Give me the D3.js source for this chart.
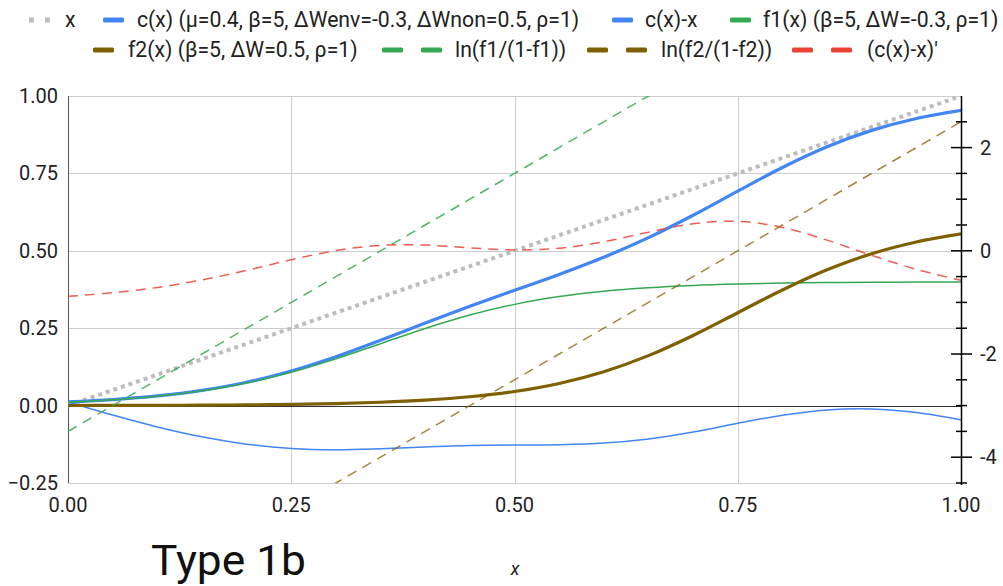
<!DOCTYPE html>
<html>
<head>
<meta charset="utf-8">
<script src="https://cdn.jsdelivr.net/npm/d3@7"></script>
<style>
  body { margin: 0; background: #fff; }
  svg { display: block; }
  text { font-family: Roboto, "Liberation Sans", Arial, sans-serif; }
</style>
</head>
<body>
<svg id="chart" width="1003" height="586"></svg>
<script>
// Sample positions along x
const xs = [0, 0.05, 0.1, 0.15, 0.2, 0.25, 0.3, 0.35, 0.4, 0.45, 0.5,
            0.55, 0.6, 0.65, 0.7, 0.75, 0.8, 0.85, 0.9, 0.95, 1];

// Left-axis series
const identity = [0, 0.05, 0.1, 0.15, 0.2, 0.25, 0.3, 0.35, 0.4, 0.45, 0.5,
                  0.55, 0.6, 0.65, 0.7, 0.75, 0.8, 0.85, 0.9, 0.95, 1];
const cVals = [0.0121, 0.0195, 0.0312, 0.0492, 0.0754, 0.1116, 0.1576, 0.2108, 0.2666, 0.3209, 0.3725,
               0.4238, 0.4791, 0.5424, 0.6148, 0.6928, 0.7691, 0.8360, 0.8889, 0.9275, 0.9539];
const cMinusX = [0.0121, -0.0305, -0.0688, -0.1008, -0.1246, -0.1384, -0.1424, -0.1392, -0.1334, -0.1291, -0.1275,
                 -0.1262, -0.1209, -0.1076, -0.0852, -0.0572, -0.0309, -0.0140, -0.0111, -0.0225, -0.0461];
const f1Vals = [0.0117, 0.0190, 0.0303, 0.0477, 0.0730, 0.1076, 0.1510, 0.2000, 0.2490, 0.2924, 0.3270,
                0.3523, 0.3697, 0.3810, 0.3883, 0.3928, 0.3956, 0.3973, 0.3984, 0.3990, 0.3994];
const f2Vals = [0.0003, 0.0006, 0.0009, 0.0015, 0.0024, 0.0040, 0.0066, 0.0108, 0.0176, 0.0285, 0.0455,
                0.0715, 0.1095, 0.1614, 0.2265, 0.3000, 0.3735, 0.4386, 0.4906, 0.5285, 0.5545];

// Right-axis series
const logitF1 = [-3.5, -3, -2.5, -2, -1.5, -1, -0.5, 0, 0.5, 1, 1.5,
                 2, 2.5, 3, 3.5, 4, 4.5, 5, 5.5, 6, 6.5];
const logitF2 = [-7.5, -7, -6.5, -6, -5.5, -5, -4.5, -4, -3.5, -3, -2.5,
                 -2, -1.5, -1, -0.5, 0, 0.5, 1, 1.5, 2, 2.5];
const slopeCMinusX = [-0.8829, -0.8138, -0.7106, -0.5652, -0.3791, -0.1737, 0.0052, 0.1060, 0.1107, 0.0575, 0.0172,
                      0.0499, 0.1753, 0.3604, 0.5238, 0.5707, 0.4535, 0.2063, -0.0889, -0.3602, -0.5734];

// Ticks
const xTicks = [0, 0.25, 0.5, 0.75, 1];
const leftTicks = [-0.25, 0, 0.25, 0.5, 0.75, 1];
const rightMajor = [-4, -2, 0, 2];
const rightMinor = [-4.5, -3.5, -3, -2.5, -1.5, -1, -0.5, 0.5, 1, 1.5, 2.5];

// Legend labels
const labels = [
  "x",
  "c(x) (μ=0.4, β=5, ΔWenv=-0.3, ΔWnon=0.5, ρ=1)",
  "c(x)-x",
  "f1(x) (β=5, ΔW=-0.3, ρ=1)",
  "f2(x) (β=5, ΔW=0.5, ρ=1)",
  "ln(f1/(1-f1))",
  "ln(f2/(1-f2))",
  "(c(x)-x)'"
];

const svg = d3.select("#chart");
const plot = { left: 68, right: 961, top: 96, bottom: 483 };

const x = d3.scaleLinear().domain([0, 1]).range([plot.left, plot.right]);
const yL = d3.scaleLinear().domain([-0.25, 1]).range([plot.bottom, plot.top]);
const yR = d3.scaleLinear().domain([-4.5, 3]).range([plot.bottom, plot.top]);

const BLUE = "#4285f4", GREEN = "#34a853", BROWN = "#7f6000", RED = "#ea4335", GREY = "#bdbdbd";

// Grid
const grid = svg.append("g");
grid.selectAll("line.h").data(leftTicks.filter(d => d !== 0)).join("line")
  .attr("x1", plot.left).attr("x2", plot.right)
  .attr("y1", d => Math.round(yL(d)) + 0.5).attr("y2", d => Math.round(yL(d)) + 0.5)
  .attr("stroke", "#cccccc").attr("stroke-width", 1);
grid.selectAll("line.v").data(xTicks.filter(d => d !== 0)).join("line")
  .attr("x1", d => Math.round(x(d)) + 0.5).attr("x2", d => Math.round(x(d)) + 0.5)
  .attr("y1", plot.top).attr("y2", plot.bottom)
  .attr("stroke", "#cccccc").attr("stroke-width", 1);

// Left axis line
svg.append("line")
  .attr("x1", plot.left + 0.5).attr("x2", plot.left + 0.5)
  .attr("y1", plot.top).attr("y2", plot.bottom)
  .attr("stroke", "#555").attr("stroke-width", 1);

// Zero baseline
svg.append("line")
  .attr("x1", plot.left).attr("x2", plot.right)
  .attr("y1", Math.round(yL(0)) + 0.5).attr("y2", Math.round(yL(0)) + 0.5)
  .attr("stroke", "#333").attr("stroke-width", 1);

// Tick labels
svg.append("g").selectAll("text").data(leftTicks).join("text")
  .attr("x", 58).attr("y", d => yL(d)).attr("dy", "0.35em")
  .attr("text-anchor", "end").attr("font-size", 20).attr("fill", "#222")
  .text(d => d3.format(".2f")(d));
svg.append("g").selectAll("text").data(xTicks).join("text")
  .attr("x", d => x(d)).attr("y", 512)
  .attr("text-anchor", "middle").attr("font-size", 20).attr("fill", "#222")
  .text(d => d3.format(".2f")(d));

// Clip for series
svg.append("defs").append("clipPath").attr("id", "plotClip")
  .append("rect").attr("x", plot.left).attr("y", plot.top)
  .attr("width", plot.right - plot.left).attr("height", plot.bottom - plot.top);

const series = [
  { vals: identity, y: yL, color: GREY, width: 4, dash: "4,4", cap: "butt" },
  { vals: cVals, y: yL, color: BLUE, width: 3.2 },
  { vals: cMinusX, y: yL, color: BLUE, width: 1.5 },
  { vals: f1Vals, y: yL, color: GREEN, width: 1.5 },
  { vals: f2Vals, y: yL, color: BROWN, width: 3.2 },
  { vals: logitF1, y: yR, color: GREEN, width: 1.5, dash: "10,7", opacity: 0.85 },
  { vals: logitF2, y: yR, color: BROWN, width: 1.5, dash: "10,7", opacity: 0.75 },
  { vals: slopeCMinusX, y: yR, color: RED, width: 1.5, dash: "10,7", opacity: 0.85 }
];

const gSeries = svg.append("g").attr("clip-path", "url(#plotClip)");
series.forEach(s => {
  const line = d3.line()
    .x((d, i) => x(xs[i]))
    .y(d => s.y(d))
    .curve(d3.curveCatmullRom.alpha(0.5));
  gSeries.append("path")
    .attr("d", line(s.vals))
    .attr("fill", "none")
    .attr("stroke", s.color)
    .attr("stroke-width", s.width)
    .attr("stroke-dasharray", s.dash || null)
    .attr("stroke-linecap", s.cap || "butt")
    .attr("stroke-linejoin", "round")
    .attr("opacity", s.opacity || 1);
});

// Right axis
const rAxis = svg.append("g");
rAxis.append("line")
  .attr("x1", plot.right + 0.5).attr("x2", plot.right + 0.5)
  .attr("y1", plot.top).attr("y2", plot.bottom + 2)
  .attr("stroke", "#000").attr("stroke-width", 1.5);
rAxis.selectAll("line.minor").data(rightMinor).join("line")
  .attr("x1", plot.right - 5).attr("x2", plot.right + 6)
  .attr("y1", d => yR(d)).attr("y2", d => yR(d))
  .attr("stroke", "#000").attr("stroke-width", 1.5);
rAxis.selectAll("line.major").data(rightMajor).join("line")
  .attr("x1", plot.right - 10).attr("x2", plot.right + 11)
  .attr("y1", d => yR(d)).attr("y2", d => yR(d))
  .attr("stroke", "#000").attr("stroke-width", 1.5);
rAxis.selectAll("text").data(rightMajor).join("text")
  .attr("x", 980).attr("y", d => yR(d)).attr("dy", "0.35em")
  .attr("font-size", 20).attr("fill", "#222")
  .text(d => d3.format("")(d).replace("−", "-"));

// Legend
const legend = svg.append("g").attr("font-size", 21.2).attr("fill", "#222");
const legendItems = [
  { kind: "dot",   color: GREY,  sx: 29,  tx: 65,  cy: 20, label: labels[0] },
  { kind: "solid", color: BLUE,  sx: 103, tx: 137, cy: 20, label: labels[1] },
  { kind: "solid", color: BLUE,  sx: 612, tx: 645, cy: 20, label: labels[2] },
  { kind: "solid", color: GREEN, sx: 730, tx: 763, cy: 20, label: labels[3] },
  { kind: "solid", color: BROWN, sx: 93,  tx: 128, cy: 50, label: labels[4] },
  { kind: "dash",  color: GREEN, sx: 382, tx: 455, cy: 50, label: labels[5] },
  { kind: "dash",  color: BROWN, sx: 587, tx: 661, cy: 50, label: labels[6] },
  { kind: "dash",  color: RED,   sx: 792, tx: 867, cy: 50, label: labels[7] }
];
legendItems.forEach(it => {
  if (it.kind === "dot") {
    [0, 16].forEach(o => legend.append("rect")
      .attr("x", it.sx + o).attr("y", it.cy - 2.5).attr("width", 5).attr("height", 5)
      .attr("fill", it.color));
  } else if (it.kind === "solid") {
    legend.append("rect")
      .attr("x", it.sx).attr("y", it.cy - 2.5).attr("width", 21).attr("height", 5)
      .attr("rx", 1.5).attr("fill", it.color);
  } else {
    [0, 39].forEach(o => legend.append("rect")
      .attr("x", it.sx + o).attr("y", it.cy - 2.5).attr("width", 21).attr("height", 5)
      .attr("rx", 1.5).attr("fill", it.color));
  }
  legend.append("text")
    .attr("x", it.tx).attr("y", it.cy).attr("dy", "0.35em")
    .text(it.label);
});

// Title and axis caption
svg.append("text")
  .attr("x", 151).attr("y", 575)
  .attr("font-family", "'DejaVu Sans', sans-serif")
  .attr("font-size", 42).attr("fill", "#111")
  .attr("textLength", 155).attr("lengthAdjust", "spacingAndGlyphs")
  .text("Type 1b");
svg.append("text")
  .attr("x", 515).attr("y", 575)
  .attr("text-anchor", "middle")
  .attr("font-family", "'Liberation Serif', 'DejaVu Serif', serif")
  .attr("font-style", "italic")
  .attr("font-size", 18).attr("fill", "#222")
  .text("x");
</script>
</body>
</html>
